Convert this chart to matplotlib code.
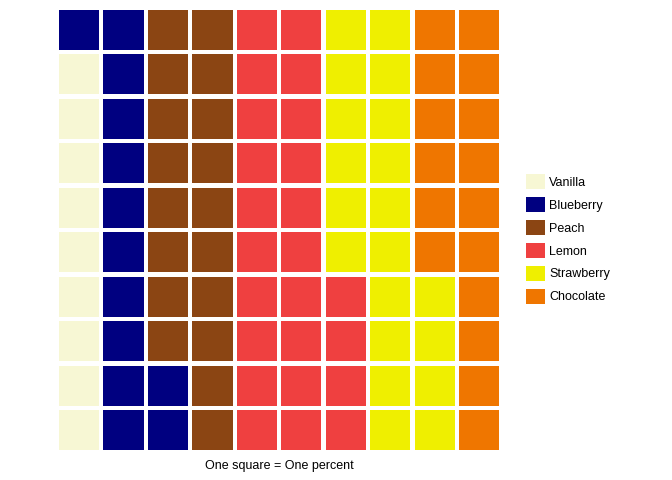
import numpy as np
import matplotlib
matplotlib.use("Agg")
import matplotlib.pyplot as plt
from matplotlib.patches import Patch

# flavours and their share (one square = one percent)
flavours = ["Vanilla", "Blueberry", "Peach", "Lemon", "Strawberry", "Chocolate"]
counts = [9, 13, 18, 24, 20, 16]
colours = ["#F7F7D4", "#000080", "#8B4513", "#EF4040", "#EFEF00", "#EF7600"]
caption = "One square = One percent"

n_rows = 10

fig = plt.figure(figsize=(6.72, 4.8), dpi=100)
ax = fig.add_axes([0.0845, 0.0578, 0.662, 0.926])

# fill squares column by column, bottom to top
idx = np.arange(sum(counts))
cols = idx // n_rows
rows = idx % n_rows
cat = np.repeat(np.arange(len(counts)), counts)

for k, name in enumerate(flavours):
    m = cat == k
    ax.bar(cols[m], 0.9, bottom=rows[m] - 0.45, width=0.9,
           color=colours[k], linewidth=0)

ax.set_xlim(-0.5, 9.5)
ax.set_ylim(-0.5, 9.5)
ax.axis("off")

fig.text(0.415, 0.029, caption, ha="center", va="center", fontsize=9,
         family="Liberation Sans")

handles = [Patch(facecolor=c, edgecolor="none") for c in colours]
fig.legend(handles, flavours, loc="center left", bbox_to_anchor=(0.783, 0.502),
           frameon=False, prop={"family": "Liberation Sans", "size": 9},
           handlelength=1.48, handleheight=1.48, handletextpad=0.38,
           labelspacing=0.62, borderpad=0, borderaxespad=0)

fig.savefig("out.png", dpi=100)
